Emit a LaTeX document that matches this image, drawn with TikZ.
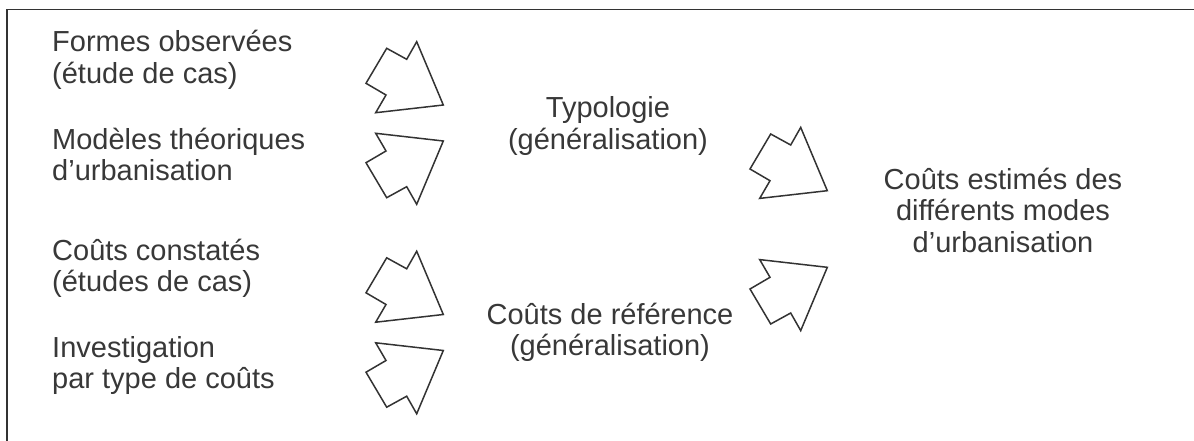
\documentclass[tikz,border=0pt]{standalone}
\usepackage{fontspec}
\setmainfont{Liberation Sans}
\definecolor{linegray}{HTML}{333333}
\definecolor{textgray}{HTML}{383838}
\tikzset{
  blockarrow/.style={draw=linegray, line width=1.5pt, line join=miter, fill=white},
  frameline/.style={draw=linegray, line width=1.5pt},
  lbl/.style={inner sep=0pt, text=textgray, font=\fontsize{29}{31.5}\selectfont},
}
\newcommand\arrowdown[2]{%
  \draw[blockarrow, shift={(#1,#2)}] (16.7,-81.3) -- (43.3,-18) -- (-24.3,-10.3) -- (-14,-28) -- (-34,-39.7) -- (-13.3,-74.7) -- (6.7,-63.7) -- cycle;}
\newcommand\arrowup[2]{%
  \draw[blockarrow, shift={(#1,#2)}] (16.7,81.3) -- (43.3,18) -- (-24.3,10.3) -- (-14,28) -- (-34,39.7) -- (-13.3,74.7) -- (6.7,63.7) -- cycle;}
\begin{document}
\begin{tikzpicture}[x=1pt, y=-1pt]
\useasboundingbox (0,0) rectangle (1194,441);
\draw[frameline] (7,441) -- (7,9.5) -- (1194,9.5);

% base anchor = baseline of the last line
\node[lbl, align=left, anchor=base west] (formes) at (52,83.5) {Formes observées\\(étude de cas)};
\node[lbl, align=left, anchor=base west] (modeles) at (52,180.5) {Modèles théoriques\\d’urbanisation};
\node[lbl, align=left, anchor=base west] (couts) at (52,291.5) {Coûts constatés\\(études de cas)};
\node[lbl, align=left, anchor=base west] (invest) at (52,388.5) {Investigation\\par type de coûts};

\node[lbl, align=center, anchor=base] (typo) at (608,149.5) {Typologie\\(généralisation)};
\node[lbl, align=center, anchor=base] (ref) at (610,355.5) {Coûts de référence\\(généralisation)};

\node[lbl, align=center, anchor=base] (estim) at (1003,252) {Coûts estimés des\\différents modes\\d’urbanisation};

\arrowdown{400}{123}
\arrowup{400}{123}
\arrowdown{400}{332.5}
\arrowup{400}{332.5}
\arrowdown{784}{208.7}
\arrowup{784}{249.3}
\end{tikzpicture}
\end{document}
